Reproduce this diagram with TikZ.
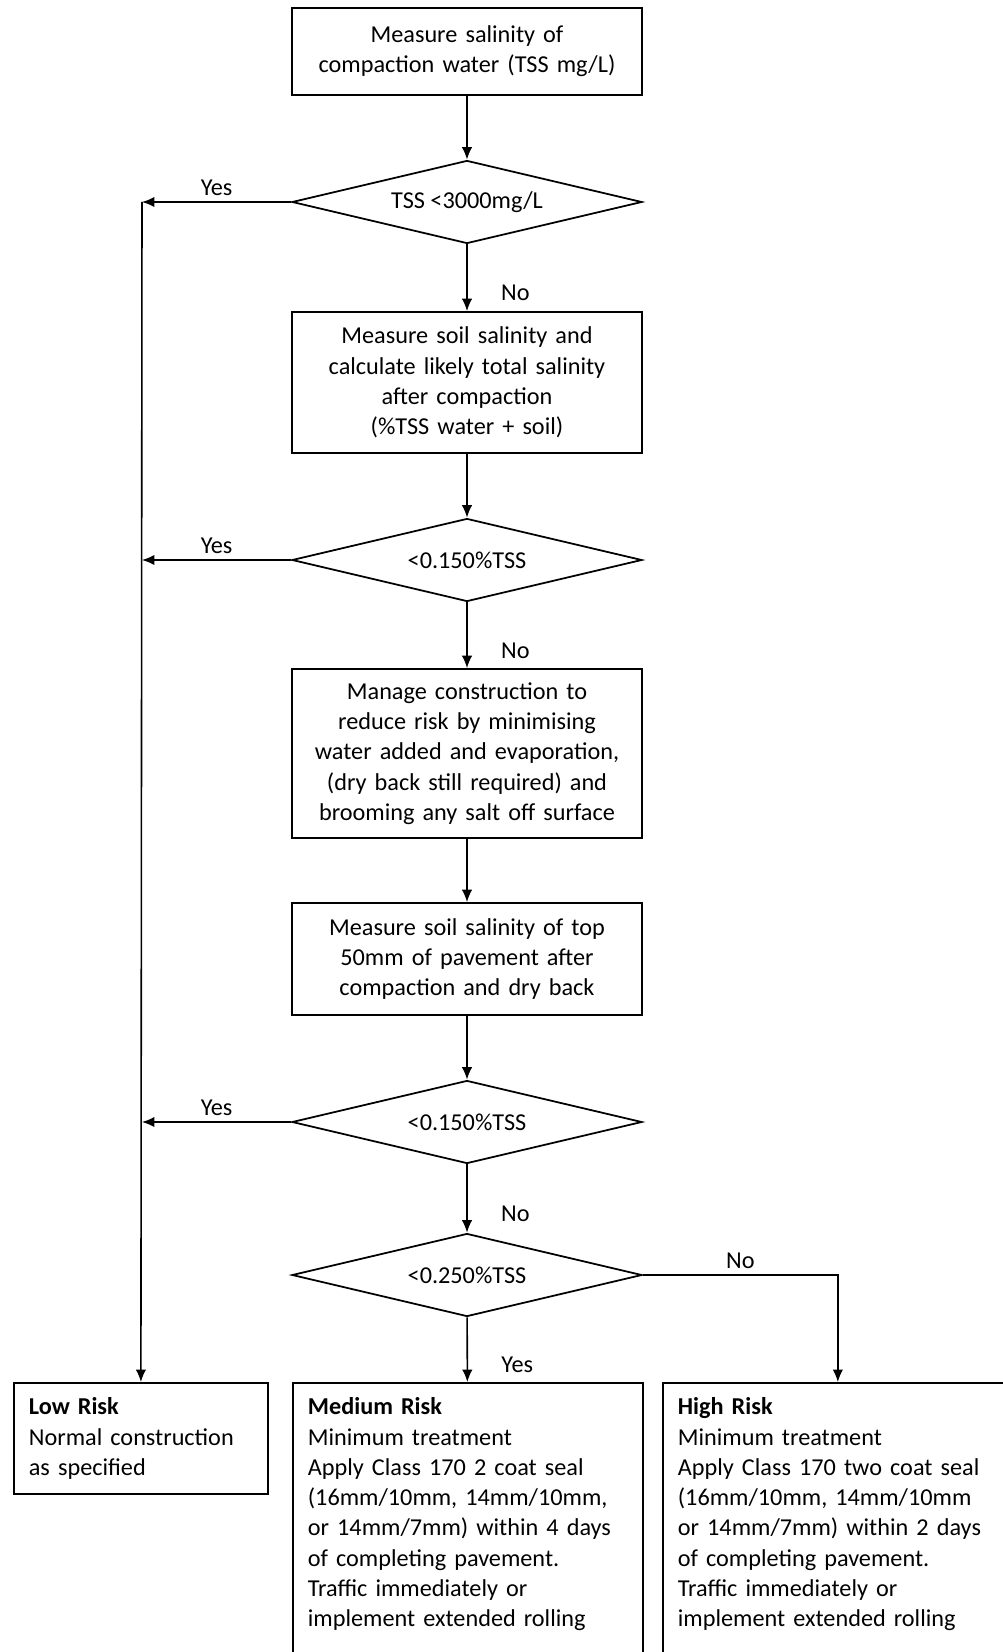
\documentclass[tikz,border=0pt]{standalone}
\usepackage{fontspec}
\setmainfont{Carlito}
\usetikzlibrary{shapes.geometric,arrows.meta}

\begin{document}
\begin{tikzpicture}[x=0.02cm,y=-0.02cm,font=\fontsize{13.8}{17.2}\selectfont,
  box/.style={draw,line width=1pt,minimum width=7cm,text width=6.9cm,align=center,inner sep=0pt},
  test/.style={draw,diamond,line width=1pt,minimum width=7cm,minimum height=1.66cm,inner sep=0pt,aspect=4},
  risk/.style={draw,line width=1pt,anchor=north west,align=left,inner xsep=0.3cm,inner ysep=0.3cm},
  arr/.style={line width=0.9pt,-{Latex[length=2.5mm,width=2.1mm]}},
  nolbl/.style={pos=0.73,anchor=west,xshift=0.55cm},
  yeslbl/.style={midway,above}]
\useasboundingbox (0,0) rectangle (1002,1652);
% main column
\node[box,minimum height=1.74cm] (m1) at (467,51.5) {Measure salinity of\\compaction water (TSS mg/L)};
\node[test] (d1) at (467,202) {TSS <3000mg/L};
\node[box,minimum height=2.82cm] (m2) at (467,382.5) {Measure soil salinity and\\calculate likely total salinity\\after compaction\\(\%TSS water + soil)};
\node[test] (d2) at (467,560) {<0.150\%TSS};
\node[box,minimum height=3.38cm] (m3) at (467,753.5) {Manage construction to\\reduce risk by minimising\\water added and evaporation,\\(dry back still required) and\\brooming any salt off surface};
\node[box,minimum height=2.24cm] (m4) at (467,959) {Measure soil salinity of top\\50mm of pavement after\\compaction and dry back};
\node[test] (d3) at (467,1122) {<0.150\%TSS};
\node[test] (d4) at (467,1275) {<0.250\%TSS};
% outcomes
\node[risk,text width=4.48cm] (low) at (13,1382) {\textbf{Low Risk}\\Normal construction\\as specified};
\node[risk,text width=6.4cm] (med) at (292,1382) {\textbf{Medium Risk}\\Minimum treatment\\Apply Class 170 2 coat seal\\(16mm/10mm, 14mm/10mm,\\or 14mm/7mm) within 4 days\\of completing pavement.\\Traffic immediately or\\implement extended rolling\\\mbox{}};
\node[risk,text width=6.4cm] (high) at (662,1382) {\textbf{High Risk}\\Minimum treatment\\Apply Class 170 two coat seal\\(16mm/10mm, 14mm/10mm\\or 14mm/7mm) within 2 days\\of completing pavement.\\Traffic immediately or\\implement extended rolling\\\mbox{}};
\coordinate (trunk) at (142,202);
% connectors
\draw[arr] (m1) -- (d1);
\draw[arr] (d1) -- node[nolbl]{No} (m2);
\draw[arr] (m2) -- (d2);
\draw[arr] (d2) -- node[nolbl]{No} (m3);
\draw[arr] (m3) -- (m4);
\draw[arr] (m4) -- (d3);
\draw[arr] (d3) -- node[nolbl]{No} (d4);
\draw[arr] (d4) -- node[nolbl]{Yes} (med);
\draw[arr] (d4.east) -- node[yeslbl]{No} (d4.east -| high) -- (high);
\draw[arr] (d1) -- node[yeslbl]{Yes} (trunk);
\draw[arr] (d2) -- node[yeslbl]{Yes} (d2 -| trunk);
\draw[arr] (d3) -- node[yeslbl]{Yes} (d3 -| trunk);
\draw[arr] (trunk) -- (low);
\end{tikzpicture}
\end{document}
